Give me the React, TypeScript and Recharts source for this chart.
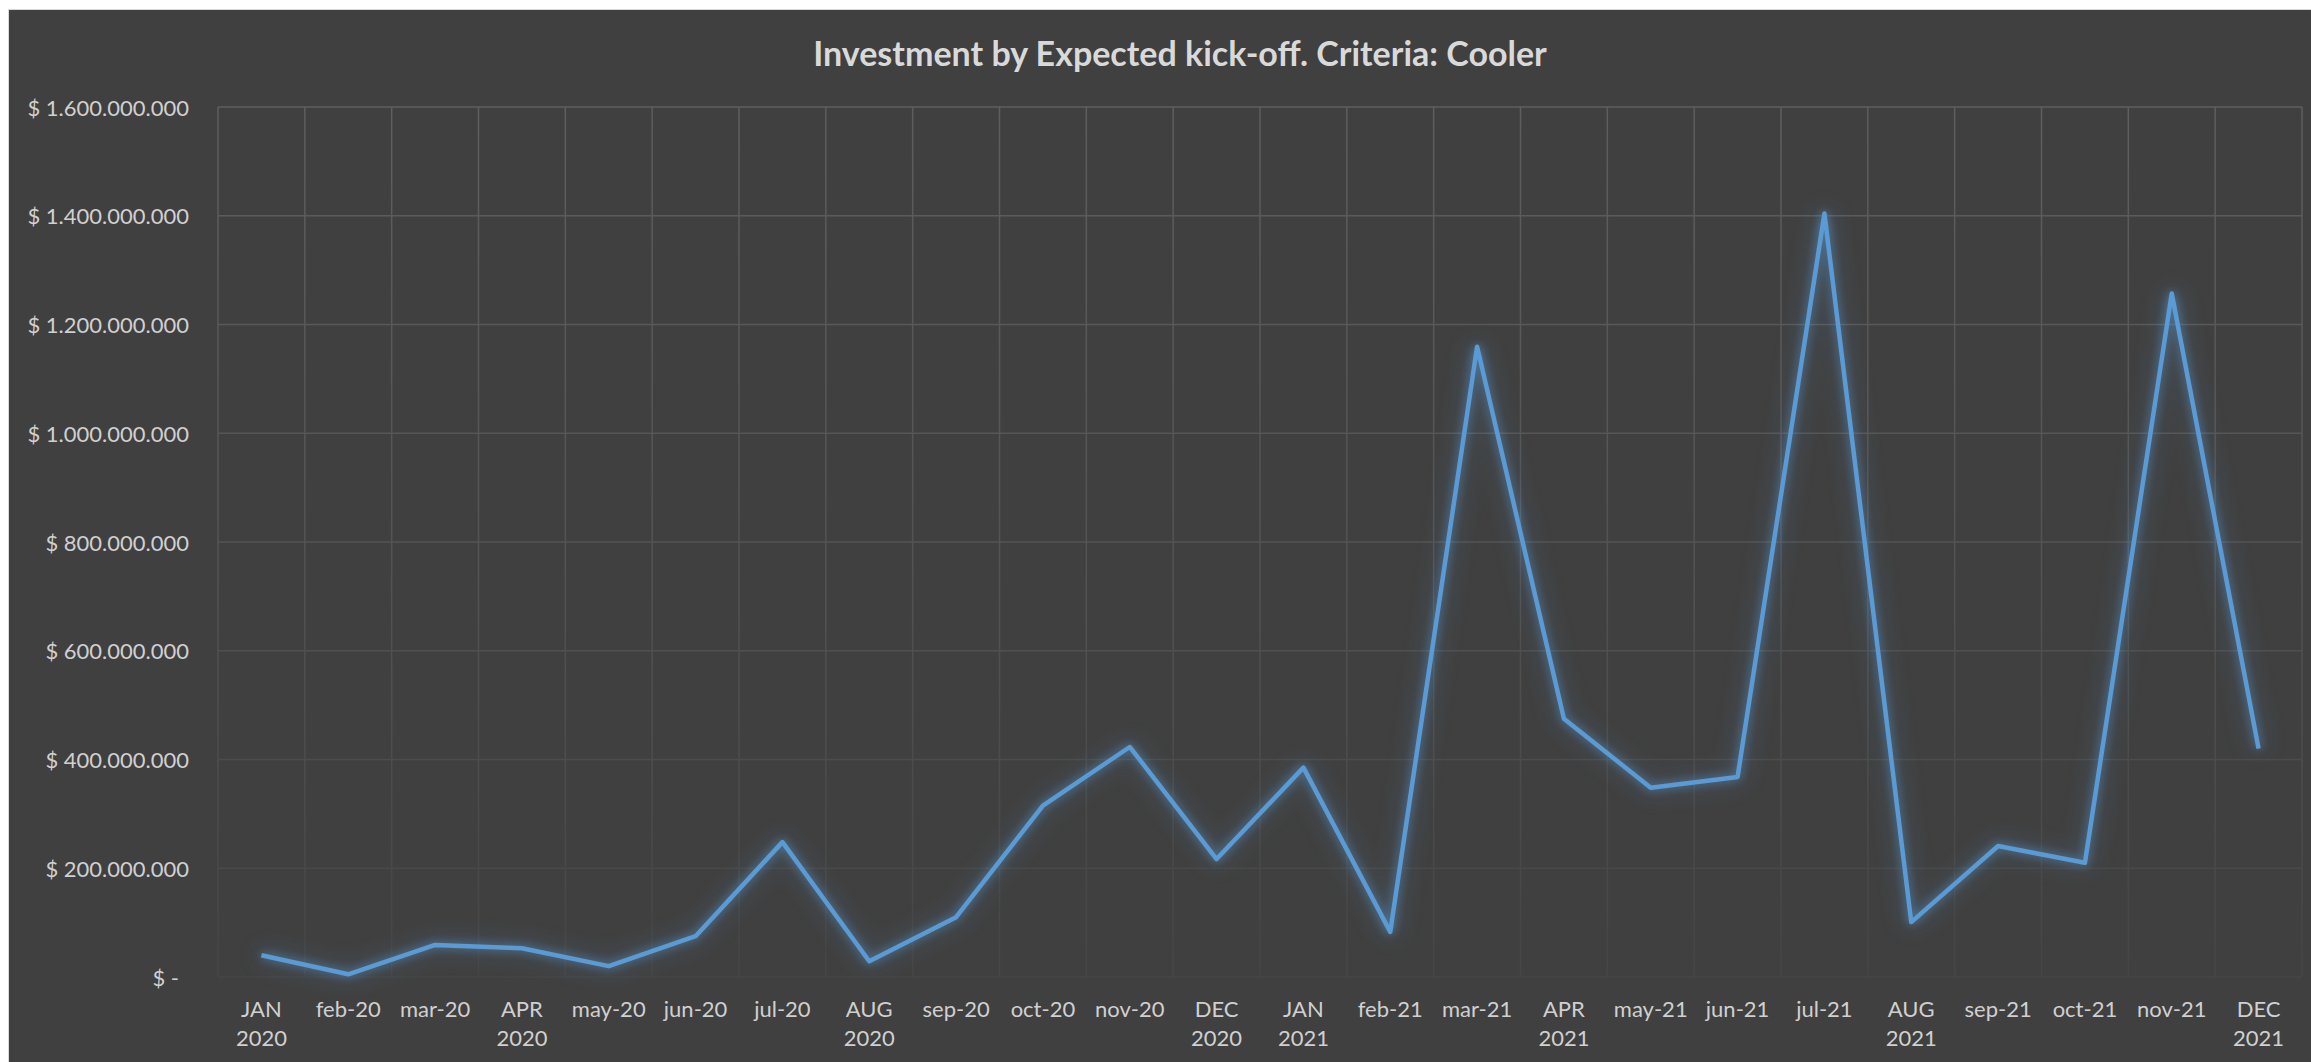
import React from 'react';
import { LineChart, Line, XAxis, YAxis, CartesianGrid } from 'recharts';

const MONTHS = [
  'JAN\n2020', 'feb-20', 'mar-20', 'APR\n2020', 'may-20', 'jun-20', 'jul-20', 'AUG\n2020',
  'sep-20', 'oct-20', 'nov-20', 'DEC\n2020', 'JAN\n2021', 'feb-21', 'mar-21', 'APR\n2021',
  'may-21', 'jun-21', 'jul-21', 'AUG\n2021', 'sep-21', 'oct-21', 'nov-21', 'DEC\n2021',
];

const INVESTMENT = [
  40000000, 5000000, 59000000, 53000000, 20000000, 75000000, 248000000, 29000000,
  110000000, 315000000, 423000000, 217000000, 385000000, 83000000, 1159000000, 475000000,
  348000000, 368000000, 1404000000, 101000000, 241000000, 210000000, 1257000000, 420000000,
];

const Y_TICKS = [0, 200000000, 400000000, 600000000, 800000000, 1000000000, 1200000000, 1400000000, 1600000000];

const W = 2305;
const H = 1053;
const M = { top: 97, right: 10, bottom: 0, left: 0 };
const Y_W = 211;
const X_H = 86;
const FONT = 'Lato, "Open Sans", sans-serif';
const TXT = '#d0d0d0';

// half a category on each side so points sit mid-band, like Excel
const HALF_BAND = (W - Y_W - M.right) / MONTHS.length / 2;

const chartData = MONTHS.map((m, i) => ({ month: m, value: INVESTMENT[i] }));

const fmtMoney = (v: number) => (v === 0 ? '$ -' : '$ ' + String(v).replace(/\B(?=(\d{3})+(?!\d))/g, '.'));

const YTick = (props: any) => {
  const { x, y, payload } = props;
  const zero = payload.value === 0;
  return (
    <text x={x} y={y} dx={zero ? -39 : -29} textAnchor="end" dominantBaseline="central"
      fill={TXT} fontSize={22} fontFamily={FONT}>
      {fmtMoney(payload.value)}
    </text>
  );
};

const XTick = (props: any) => {
  const { x, y, payload } = props;
  const lines = String(payload.value).split('\n');
  return (
    <text x={x} y={y} textAnchor="middle" fill={TXT} fontSize={22} fontFamily={FONT}>
      {lines.map((l, i) => (
        <tspan key={i} x={x} dy={i === 0 ? 40 : 29}>{l}</tspan>
      ))}
    </text>
  );
};

const vGrid = ({ offset }: any) => {
  const n = MONTHS.length;
  const pts: number[] = [];
  for (let i = 0; i <= n; i++) pts.push(offset.left + (offset.width * i) / n);
  return pts;
};

const App: React.FC = () => {
  const plotTop = M.top;
  const plotBottom = H - X_H;
  return (
    <div style={{ position: 'absolute', left: 8, top: 9, width: W - 2, height: H, background: '#404040', borderTop: '1px solid #d9d9d9', borderLeft: '1px solid #d9d9d9', overflow: 'hidden' }}>
      <style>{`body{margin:0;background:#fff}.recharts-line-curve{filter:drop-shadow(0 0 5px rgba(91,155,213,0.7)) drop-shadow(0 0 11px rgba(91,155,213,0.4));}`}</style>
      <div style={{ position: 'absolute', left: 1171, top: 42, transform: 'translate(-50%,-50%)', whiteSpace: 'nowrap', color: '#d9d9d9', fontFamily: FONT, fontWeight: 700, fontSize: 34 }}>
        Investment by Expected kick-off. Criteria: Cooler
      </div>
      <div style={{ position: 'absolute', left: -2, top: 0 }}>
        <LineChart width={W} height={H} data={chartData} margin={M}>
          <defs>
            <linearGradient id="gridFade" gradientUnits="userSpaceOnUse" x1="0" y1={plotTop} x2="0" y2={plotBottom}>
              <stop offset="0%" stopColor="#5e5e5e" />
              <stop offset="55%" stopColor="#525252" />
              <stop offset="100%" stopColor="#454545" />
            </linearGradient>
          </defs>
          <CartesianGrid stroke="url(#gridFade)" strokeWidth={1.5} verticalCoordinatesGenerator={vGrid} />
          <XAxis dataKey="month" interval={0} axisLine={false} tickLine={false} tickSize={0} tickMargin={0}
            height={X_H} padding={{ left: HALF_BAND, right: HALF_BAND }} tick={<XTick />} />
          <YAxis type="number" domain={[0, 1600000000]} ticks={Y_TICKS} width={Y_W} axisLine={false}
            tickLine={false} tickSize={0} tickMargin={0} tick={<YTick />} interval={0} />
          <Line type="linear" dataKey="value" stroke="#5b9bd5" strokeWidth={4.5} dot={false}
            activeDot={false} isAnimationActive={false} strokeLinejoin="round" />
        </LineChart>
      </div>
    </div>
  );
};

export default App;
